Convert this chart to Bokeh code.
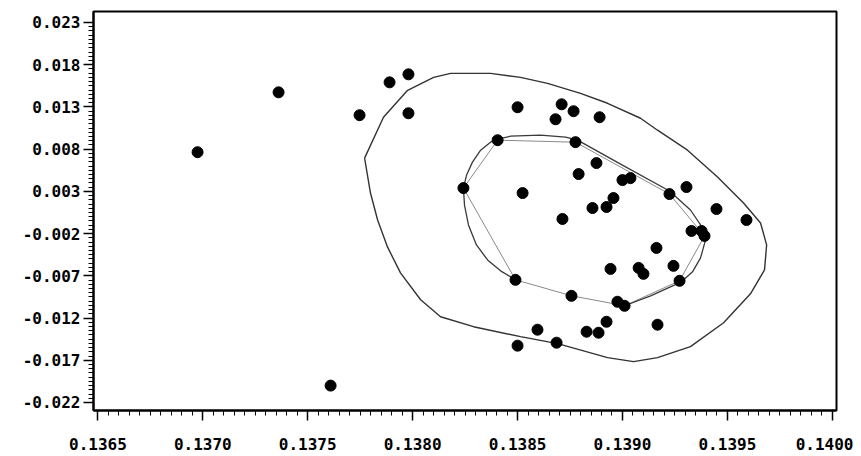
import numpy as np
from bokeh.plotting import figure
from bokeh.models import Range1d, FixedTicker
from bokeh.embed import file_html
from bokeh.resources import INLINE

# ---- data ----
pts_x = [0.136975, 0.137361, 0.137609, 0.137747, 0.137890, 0.137980, 0.137980, 0.138242,
         0.138405, 0.138500, 0.138524, 0.138490, 0.138500, 0.138595, 0.138681, 0.138710,
         0.138767, 0.138891, 0.138776, 0.138876, 0.138791, 0.139000, 0.139038, 0.138957,
         0.138857, 0.138924, 0.138714, 0.139224, 0.139305, 0.139448, 0.139591, 0.139329,
         0.139377, 0.139391, 0.139162, 0.138943, 0.139077, 0.139100, 0.139243, 0.139272,
         0.138757, 0.138976, 0.139010, 0.138924, 0.138829, 0.138886, 0.138686, 0.139167]
pts_y = [0.00764, 0.01473, -0.02000, 0.01202, 0.01591, 0.01686, 0.01225, 0.00339,
         0.00906, 0.01296, 0.00280, -0.00748, -0.01527, -0.01338, 0.01154, 0.01331,
         0.01249, 0.01178, 0.00883, 0.00635, 0.00505, 0.00434, 0.00457, 0.00221,
         0.00103, 0.00115, -0.00027, 0.00268, 0.00351, 0.00091, -0.00039, -0.00169,
         -0.00169, -0.00228, -0.00370, -0.00618, -0.00606, -0.00677, -0.00582, -0.00759,
         -0.00937, -0.01007, -0.01055, -0.01244, -0.01362, -0.01374, -0.01492, -0.01279]

outer_x = [0.137771, 0.137861, 0.137976, 0.138100, 0.138181, 0.138371, 0.138514, 0.138643,
           0.138800, 0.138929, 0.139086, 0.139167, 0.139310, 0.139453, 0.139577, 0.139658,
           0.139687, 0.139677, 0.139610, 0.139482, 0.139324, 0.139167, 0.139053, 0.138929,
           0.138691, 0.138514, 0.138290, 0.138133, 0.138038, 0.137942, 0.137880, 0.137833,
           0.137799]
outer_y = [0.006936, 0.011779, 0.014968, 0.016503, 0.016976, 0.016976, 0.016503, 0.015795,
           0.014613, 0.013432, 0.011660, 0.010243, 0.007880, 0.004691, 0.001620, -0.000742,
           -0.003342, -0.006294, -0.009129, -0.012555, -0.015389, -0.016688, -0.017162, -0.016688,
           -0.015035, -0.014207, -0.013026, -0.011845, -0.009837, -0.006648, -0.003577, -0.000388,
           0.002801]

inner_x = [0.139010, 0.139134, 0.139281, 0.139334, 0.139372, 0.139396, 0.139382, 0.139324,
           0.139224, 0.138991, 0.138786, 0.138729, 0.138609, 0.138467, 0.138405, 0.138371,
           0.138324, 0.138285, 0.138257, 0.138242, 0.138247, 0.138266, 0.138304, 0.138357,
           0.138419, 0.138490]
inner_y = [-0.010546, -0.009365, -0.007711, -0.006530, -0.004876, -0.002750, -0.001333, 0.000793,
           0.003038, 0.006230, 0.009062, 0.009416, 0.009652, 0.009534, 0.009180, 0.008826,
           0.007881, 0.006463, 0.004928, 0.003392, 0.001384, -0.000978, -0.003341, -0.005113,
           -0.006412, -0.007475]

hull_x = [0.138242, 0.138405, 0.138776, 0.139224, 0.139391, 0.139272, 0.139010, 0.138757, 0.138490]
hull_y = [0.003392, 0.009062, 0.008826, 0.002683, -0.002277, -0.007592, -0.010546, -0.009366, -0.007475]

x_ticks = [0.1365, 0.1370, 0.1375, 0.1380, 0.1385, 0.1390, 0.1395, 0.1400]
x_tick_labels = ["0.1365", "0.1370", "0.1375", "0.1380", "0.1385", "0.1390", "0.1395", "0.1400"]
y_ticks = [-0.022, -0.017, -0.012, -0.007, -0.002, 0.003, 0.008, 0.013, 0.018, 0.023]
y_tick_labels = ["-0.022", "-0.017", "-0.012", "-0.007", "-0.002", "0.003", "0.008", "0.013", "0.018", "0.023"]

# ---- figure ----
p = figure(width=853, height=452, output_backend="svg", toolbar_location=None,
           x_range=Range1d(0.136479, 0.140020), y_range=Range1d(-0.022949, 0.0243),
           min_border_left=93, min_border_right=17, min_border_top=11, min_border_bottom=41)
p.grid.visible = False
p.outline_line_color = "black"
p.outline_line_width = 2
p.background_fill_color = "white"
p.border_fill_color = "white"

x_minor = list(np.round(np.arange(x_ticks[0], x_ticks[-1] + 1e-9, 0.00005), 6))
y_minor = list(np.round(np.arange(y_ticks[0], y_ticks[-1] + 1e-9, 0.0005), 6))
p.xaxis.ticker = FixedTicker(ticks=x_ticks, minor_ticks=x_minor)
p.yaxis.ticker = FixedTicker(ticks=y_ticks, minor_ticks=y_minor)
p.xaxis.major_label_overrides = {t: s for t, s in zip(x_ticks, x_tick_labels)}
p.yaxis.major_label_overrides = {t: s for t, s in zip(y_ticks, y_tick_labels)}

for ax in (p.xaxis[0], p.yaxis[0]):
    ax.axis_line_width = 2
    ax.axis_line_color = "black"
    ax.major_tick_out = 10
    ax.major_tick_in = 0
    ax.minor_tick_out = 5
    ax.minor_tick_in = 0
    ax.major_tick_line_width = 1.5
    ax.minor_tick_line_width = 1
    ax.major_tick_line_color = "black"
    ax.minor_tick_line_color = "black"
    ax.major_label_text_font = "DejaVu Sans Mono"
    ax.major_label_text_font_style = "bold"
    ax.major_label_text_font_size = "16px"
    ax.major_label_text_color = "black"
p.yaxis.major_label_standoff = 3
p.xaxis.major_label_standoff = 17

# contours
p.line(outer_x + outer_x[:1], outer_y + outer_y[:1], line_color="#333333", line_width=1.4)
p.line(hull_x + hull_x[:1], hull_y + hull_y[:1], line_color="#8a8a8a", line_width=1)
p.line(inner_x, inner_y, line_color="#3a3a3a", line_width=1.3)

# points
p.scatter(pts_x, pts_y, size=11, fill_color="black", line_color="black")

open("out.html", "w").write(file_html(p, INLINE))
